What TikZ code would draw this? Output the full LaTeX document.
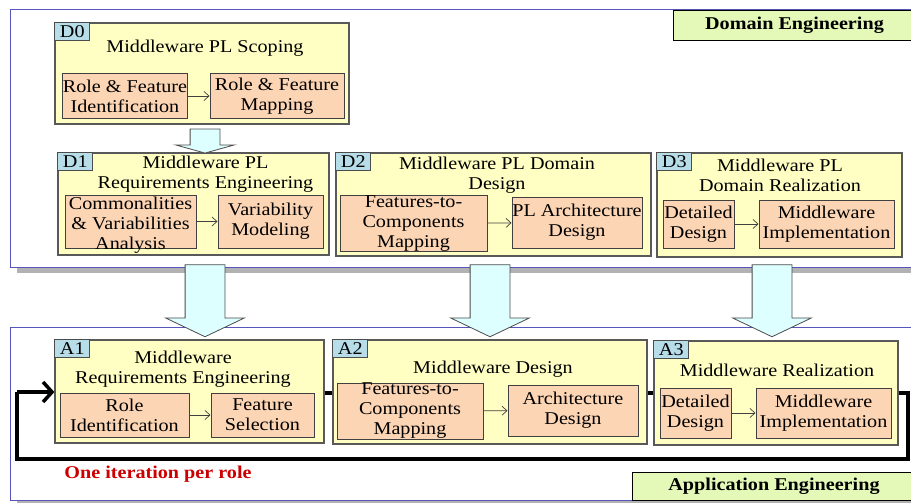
\documentclass[tikz,border=0pt]{standalone}
\usepackage{fontspec}
\setmainfont{Liberation Serif}[FakeStretch=1.12]
\usetikzlibrary{shapes.arrows,arrows.meta}

\definecolor{stagefill}{HTML}{FFFFC4}
\definecolor{taskfill}{HTML}{FCD5B4}
\definecolor{tagfill}{HTML}{B6DDE8}
\definecolor{arrowfill}{HTML}{DDFFFF}
\definecolor{bannerfill}{HTML}{E4F9B8}
\definecolor{framecol}{HTML}{5555BB}
\definecolor{iterred}{HTML}{CC0000}

\begin{document}
\begin{tikzpicture}[x=1pt,y=-1pt,font=\fontsize{18}{20}\selectfont]
\tikzstyle{every node}=[]
\tikzstyle{stage}=[draw=black!65, fill=stagefill, line width=1.2pt, inner sep=0pt]
\tikzstyle{task}=[draw=black!75, fill=taskfill, line width=1pt, inner sep=0pt, align=center]
\tikzstyle{tag}=[draw=black!70, fill=tagfill, line width=0.8pt, inner sep=0pt, anchor=north west, minimum width=35pt, minimum height=18pt]
\tikzstyle{title}=[align=center, inner sep=0pt]
\tikzstyle{banner}=[draw=black, fill=bannerfill, line width=0.8pt, font=\fontsize{18}{20}\selectfont\bfseries]
\tikzstyle{frame}=[draw=framecol, line width=1pt]
\tikzstyle{bigarrow}=[draw=black!70, fill=arrowfill, single arrow, rotate=-90, inner xsep=0pt, line width=0.8pt]
\tikzstyle{flow}=[-{Straight Barb[length=5pt,width=9pt]}, draw=black!75, line width=0.7pt]
\tikzstyle{iterline}=[draw=black, line width=3.5pt]

\useasboundingbox (0,0) rectangle (911,503);

% the two engineering frames with their shaded lower edge
\draw[frame] (10,10) rectangle (930,267);
\fill[black!30] (17,268) rectangle (930,273);
\draw[frame] (10,327) rectangle (930,500);
\fill[black!30] (17,501) rectangle (930,506);

% domain engineering
\node[stage, minimum width=294pt, minimum height=101pt] (D0) at (202,73.5) {};
\node[tag] (D0tag) at (D0.north west) {D0};
\node[title] (D0title) at (205,48) {Middleware PL Scoping};
\node[task, minimum width=124pt, minimum height=44pt] (D0a) at (125,96) {Role \& Feature\\Identification};
\node[task, minimum width=134pt, minimum height=44pt] (D0b) at (277,96) {Role \& Feature\\Mapping};

\node[stage, minimum width=271pt, minimum height=102pt] (D1) at (193.5,204) {};
\node[tag] (D1tag) at (D1.north west) {D1};
\node[title] (D1title) at (205.5,174.5) {Middleware PL\\Requirements Engineering};
\node[task, minimum width=131pt, minimum height=53pt] (D1a) at (130.5,221.5) {};
\node[title] (D1atext) at (130.5,225) {Commonalities\\\& Variabilities\\Analysis};
\node[task, minimum width=105pt, minimum height=53pt] (D1b) at (270.5,221.5) {Variability\\Modeling};

\node[stage, minimum width=315pt, minimum height=103pt] (D2) at (493.5,204.5) {};
\node[tag] (D2tag) at (D2.north west) {D2};
\node[title] (D2title) at (497,175) {Middleware PL Domain\\Design};
\node[task, minimum width=147pt, minimum height=55pt] (D2a) at (413.5,223.5) {Features-to-\\Components\\Mapping};
\node[task, minimum width=130pt, minimum height=51pt] (D2b) at (577,222.5) {PL Architecture\\Design};

\node[stage, minimum width=245pt, minimum height=104pt] (D3) at (779.5,205) {};
\node[tag] (D3tag) at (D3.north west) {D3};
\node[title] (D3title) at (780,175) {Middleware PL\\Domain Realization};
\node[task, minimum width=71pt, minimum height=48pt] (D3a) at (698.5,224) {Detailed\\Design};
\node[task, minimum width=135pt, minimum height=48pt] (D3b) at (826.5,224) {Middleware\\Implementation};

\draw[flow] (D0a) -- (D0b);
\draw[flow] (D1a) -- (D1b);
\draw[flow] (D2a) -- (D2b);
\draw[flow] (D3a) -- (D3b);

\node[banner, minimum width=243pt, minimum height=30pt] (domain) at (794.5,25) {Domain Engineering};

% application engineering
\node[stage, minimum width=269pt, minimum height=103pt] (A1) at (189.5,391.5) {};
\node[stage, minimum width=314pt, minimum height=104pt] (A2) at (490,392) {};
\node[stage, minimum width=244pt, minimum height=104pt] (A3) at (776,393) {};

% iteration loop
\coordinate (loopR) at (908,393);
\coordinate (loopBR) at (908,459);
\coordinate (loopBL) at (17,459);
\coordinate (loopL) at (17,392);
\draw[iterline] (A1.east |- loopR) -- (A2.west |- loopR);
\draw[iterline] (A2.east |- loopR) -- (A3.west |- loopR);
\draw[iterline] (A3.east |- loopR) -- (loopR) -- (loopBR) -- (loopBL) -- (loopL);
\draw[iterline, -{Straight Barb[length=9pt,width=20pt]}] (loopL) -- (A1.west |- loopL);
\node[font=\fontsize{18}{20}\selectfont\bfseries, text=iterred] (iter) at (158,474) {One iteration per role};

\node[tag] (A1tag) at (A1.north west) {A1};
\node[title] (A1title) at (183,369) {Middleware\\Requirements Engineering};
\node[task, minimum width=129pt, minimum height=44pt] (A1a) at (124.5,415) {Role\\Identification};
\node[task, minimum width=103pt, minimum height=44pt] (A1b) at (262.5,415) {Feature\\Selection};

\node[tag] (A2tag) at (A2.north west) {A2};
\node[title] (A2title) at (493,369) {Middleware Design};
\node[task, minimum width=146pt, minimum height=56pt] (A2a) at (410,411) {Features-to-\\Components\\Mapping};
\node[task, minimum width=130pt, minimum height=51pt] (A2b) at (573,410.5) {Architecture\\Design};

\node[tag] (A3tag) at (A3.north west) {A3};
\node[title] (A3title) at (777,370) {Middleware Realization};
\node[task, minimum width=71pt, minimum height=50pt] (A3a) at (695.5,413) {Detailed\\Design};
\node[task, minimum width=135pt, minimum height=50pt] (A3b) at (823.5,413) {Middleware\\Implementation};

\draw[flow] (A1a) -- (A1b);
\draw[flow] (A2a) -- (A2b);
\draw[flow] (A3a) -- (A3b);

\node[banner, minimum width=284pt, minimum height=28pt] (application) at (774,486) {Application Engineering};

% block arrows between the phases
\node[bigarrow, inner ysep=14.5pt, single arrow head extend=14.5pt, single arrow tip angle=149, minimum height=24pt] (D0D1) at (205,139) {};
\node[bigarrow, inner ysep=19.5pt, single arrow head extend=19.5pt, single arrow tip angle=129, minimum height=72pt] (D1A1) at (205,296) {};
\node[bigarrow, inner ysep=19.5pt, single arrow head extend=19.5pt, single arrow tip angle=129, minimum height=72pt] (D2A2) at (490,296) {};
\node[bigarrow, inner ysep=19.5pt, single arrow head extend=19.5pt, single arrow tip angle=129, minimum height=72pt] (D3A3) at (772,296) {};

\end{tikzpicture}
\end{document}
